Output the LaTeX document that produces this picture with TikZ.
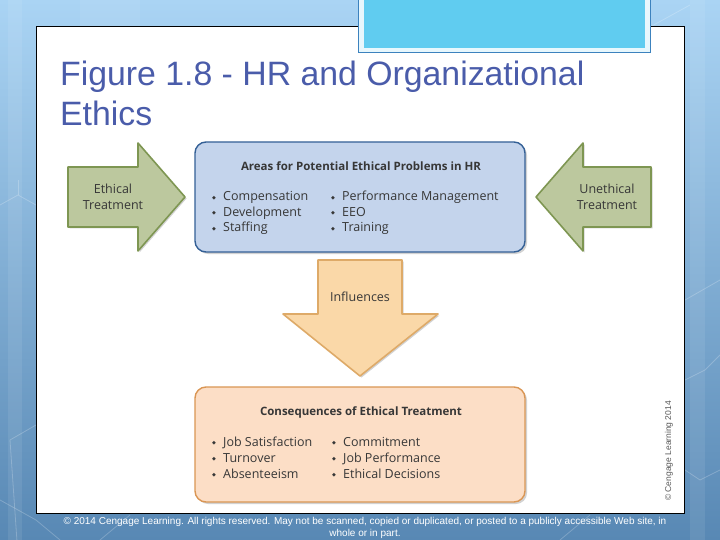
\documentclass[tikz,border=0pt]{standalone}
\usepackage{fontspec}
\setmainfont{Open Sans}
\newfontfamily\titlefont{Liberation Sans}
\newfontfamily\symfont{DejaVu Sans}
\usetikzlibrary{shadows}
\definecolor{bgtop}{RGB}{170,212,244}
\definecolor{bgbot}{RGB}{88,136,180}
\definecolor{titleblue}{RGB}{74,92,170}
\definecolor{topfill}{RGB}{96,204,240}
\definecolor{topline}{RGB}{60,130,190}
\definecolor{bluefill}{RGB}{196,212,236}
\definecolor{blueline}{RGB}{52,96,150}
\definecolor{greenfill}{RGB}{188,200,158}
\definecolor{greenline}{RGB}{126,150,82}
\definecolor{orfill}{RGB}{250,216,168}
\definecolor{orline}{RGB}{222,170,104}
\definecolor{peachfill}{RGB}{252,222,198}
\definecolor{peachline}{RGB}{218,150,84}
\definecolor{figtext}{RGB}{55,55,55}
\newcommand\bl{\makebox[11pt][l]{\raisebox{1.6pt}{\symfont\fontsize{5}{5}\selectfont ◆}}}
\begin{document}
\begin{tikzpicture}[x=1pt,y=-1pt,
  panel/.style={fill=white,draw=black,line width=0.8pt},
  bigarrow/.style={line width=1.6pt,line join=round,drop shadow={shadow xshift=1.5pt,shadow yshift=-1.5pt,opacity=.35}},
  greenarrow/.style={bigarrow,fill=greenfill,draw=greenline},
  orarrow/.style={bigarrow,fill=orfill,draw=orline},
  roundbox/.style={rounded corners=11pt,line width=1.4pt,drop shadow={shadow xshift=2pt,shadow yshift=-2pt,opacity=.35}},
  boxhead/.style={font=\fontsize{11.5}{14}\selectfont\bfseries,text=figtext,inner sep=0pt},
  item/.style={font=\fontsize{12.5}{15}\selectfont,text=figtext,inner sep=0pt,anchor=base west},
  arrowtext/.style={font=\fontsize{12.5}{16}\selectfont,text=figtext,align=center,inner sep=0pt},
  titletext/.style={anchor=base west,inner sep=0pt,text=titleblue,font=\titlefont\fontsize{33.8}{40}\selectfont},
  foottext/.style={inner sep=0pt,text=white,anchor=base,font=\titlefont\fontsize{10}{12}\selectfont},
  bgline/.style={white,opacity=.22,line width=0.8pt}]
\useasboundingbox (0,0) rectangle (720,540);
% background
\shade[top color=bgtop,bottom color=bgbot] (0,0) rectangle (720,540);
\fill[white,opacity=.08] (8,0) rectangle (22,540);
\fill[white,opacity=.08] (690,0) rectangle (705,540);
\fill[white,opacity=.06] (80,0) rectangle (140,27);
\draw[bgline] (0,205) -- (18,195) -- (36,205);
\draw[bgline] (18,195) -- (18,180);
\draw[bgline] (0,500) -- (36,520) -- (60,540);
\draw[bgline] (20,585) -- (10,440) -- (36,425);
\draw[bgline] (685,380) -- (705,370) -- (720,355);
\draw[bgline] (685,300) -- (720,280);
\draw[bgline] (685,470) -- (700,480) -- (720,470);
\draw[bgline] (100,540) -- (130,515);
\draw[bgline] (560,540) -- (590,515);
\draw[bgline] (650,27) -- (690,5);
% slide panel
\draw[panel] (36,26) rectangle (684,513);
% top box
\fill[white!85!topfill] (358,-2) rectangle (650,53);
\draw[topline,line width=1pt] (358,-2) -- (358,53) -- (650,53) -- (650,-2);
\fill[topfill] (364,-2) rectangle (645,48);
% title
\node[titletext] (title1) at (60,86) {Figure 1.8 - HR and Organizational};
\node[titletext] (title2) at (60,126) {Ethics};
% green arrows
\draw[greenarrow] (68,167) -- (138,167) -- (138,143) -- (185,197) -- (138,251) -- (138,227) -- (68,227) -- cycle;
\node[arrowtext] (ethical) at (113,197) {Ethical\\Treatment};
\draw[greenarrow] (651,167) -- (583,167) -- (583,143) -- (536,197) -- (583,251) -- (583,227) -- (651,227) -- cycle;
\node[arrowtext] (unethical) at (607,197) {Unethical\\Treatment};
% blue box
\draw[roundbox,fill=bluefill,draw=blueline] (195,142) rectangle (525,252);
\node[boxhead] (areas) at (361,166) {Areas for Potential Ethical Problems in HR};
\node[item] (a1) at (212,201) {\bl Compensation};
\node[item] (a2) at (212,216.5) {\bl Development};
\node[item] (a3) at (212,232) {\bl Staffing};
\node[item] (a4) at (331,201) {\bl Performance Management};
\node[item] (a5) at (331,216.5) {\bl EEO};
\node[item] (a6) at (331,232) {\bl Training};
% down arrow
\draw[orarrow] (318,260) -- (402,260) -- (402,314) -- (438,314) -- (360,376) -- (283,314) -- (318,314) -- cycle;
\node[arrowtext] (influences) at (360,297) {Influences};
% orange box
\draw[roundbox,fill=peachfill,draw=peachline] (195,387) rectangle (525,502);
\node[boxhead] (cons) at (361,412) {Consequences of Ethical Treatment};
\node[item] (c1) at (212,446) {\bl Job Satisfaction};
\node[item] (c2) at (212,462) {\bl Turnover};
\node[item] (c3) at (212,478) {\bl Absenteeism};
\node[item] (c4) at (332,446) {\bl Commitment};
\node[item] (c5) at (332,462) {\bl Job Performance};
\node[item] (c6) at (332,478) {\bl Ethical Decisions};
% vertical credit
\node[rotate=90,inner sep=0pt,text=black!65,font=\titlefont\fontsize{8.5}{10}\selectfont] (credit) at (669,451) {© Cengage Learning 2014};
% footer
\node[foottext] (foot1) at (365,524.5) {© 2014 Cengage Learning. All rights reserved. May not be scanned, copied or duplicated, or posted to a publicly accessible Web site, in};
\node[foottext] (foot2) at (365,536.5) {whole or in part.};
\end{tikzpicture}
\end{document}
